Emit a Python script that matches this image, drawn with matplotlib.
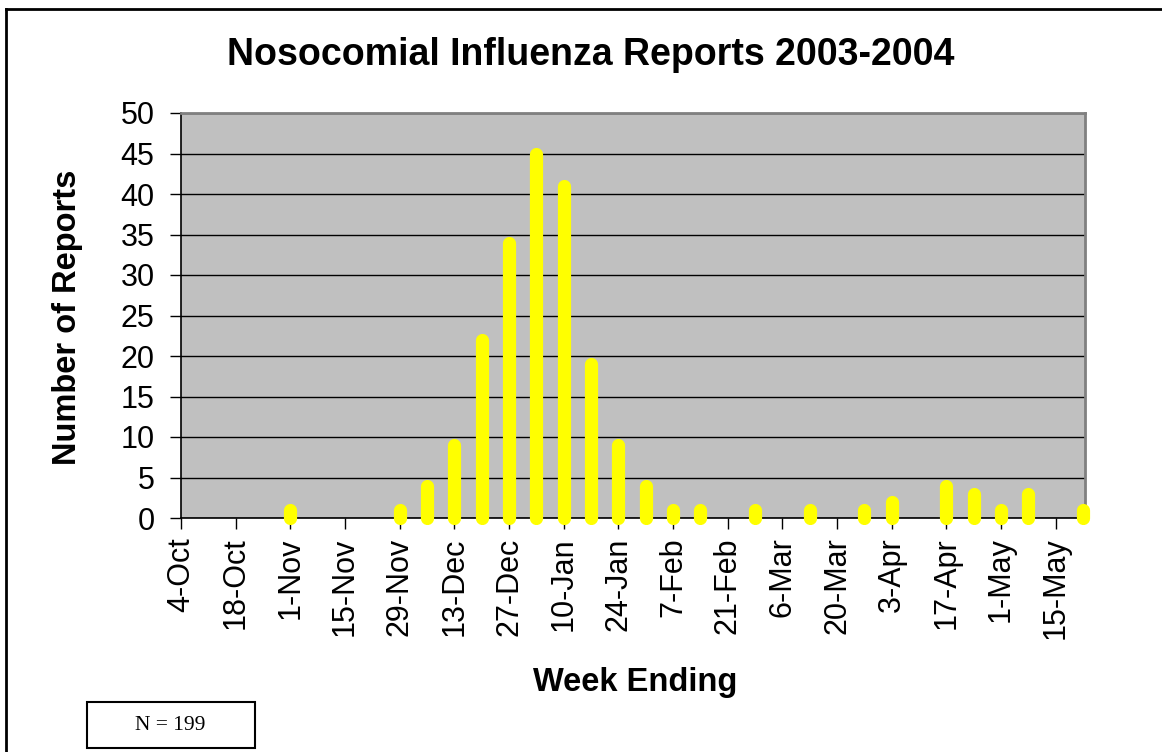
import numpy as np
import matplotlib
matplotlib.use('Agg')
import matplotlib.pyplot as plt
import matplotlib.dates as mdates
from matplotlib.lines import Line2D

plt.rcParams['font.family'] = ['Liberation Sans', 'DejaVu Sans']

# week ending dates with reports (weeks not listed had none)
week_ending = ['2003-11-01', '2003-11-29', '2003-12-06', '2003-12-13', '2003-12-20',
               '2003-12-27', '2004-01-03', '2004-01-10', '2004-01-17', '2004-01-24',
               '2004-01-31', '2004-02-07', '2004-02-14', '2004-02-28', '2004-03-13',
               '2004-03-27', '2004-04-03', '2004-04-17', '2004-04-24', '2004-05-01',
               '2004-05-08', '2004-05-22']
reports = [1, 1, 4, 9, 22, 34, 45, 41, 19, 9, 4, 1, 1, 1, 1, 1, 2, 4, 3, 1, 3, 1]

first_week = '2003-10-04'
last_week = '2004-05-22'
y_ticks = [0, 5, 10, 15, 20, 25, 30, 35, 40, 45, 50]

x = mdates.datestr2num(week_ending)
x0 = mdates.datestr2num(first_week)
x1 = mdates.datestr2num(last_week)

fig = plt.figure(figsize=(11.62, 7.52), dpi=100)
ax = fig.add_axes([181 / 1162, 1 - 518 / 752, (1085 - 181) / 1162, (518 - 113) / 752])
ax.set_facecolor('#C0C0C0')

# bars as thick lines with rounded ends
ax.vlines(x, 0, reports, colors='#FFFF00', linewidth=9.5, capstyle='round',
          zorder=3, clip_on=False)

ax.set_xlim(x0, x1 + 0.5)
ax.set_ylim(0, 50)
ax.set_yticks(y_ticks)
ax.yaxis.grid(True, color='black', linewidth=1)
ax.set_axisbelow(True)

ticks = np.arange(x0, x1, 14)
ax.set_xticks(ticks)
ax.set_xticklabels([f"{mdates.num2date(t).day}-{mdates.num2date(t):%b}" for t in ticks],
                   rotation=90)

ax.tick_params(axis='y', length=8, width=1, pad=11, labelsize=22, direction='out')
ax.tick_params(axis='x', length=8, width=1, pad=6, labelsize=22, direction='out')

for s in ['top', 'right']:
    ax.spines[s].set_color('#808080')
    ax.spines[s].set_linewidth(2)
for s in ['left', 'bottom']:
    ax.spines[s].set_color('black')
    ax.spines[s].set_linewidth(1.2)

fig.text(591 / 1162, 1 - 55 / 752, 'Nosocomial Influenza Reports 2003-2004',
         ha='center', va='center', fontsize=27, fontweight='bold')
fig.text(68 / 1162, 1 - 317 / 752, 'Number of Reports', rotation=90,
         ha='center', va='center', fontsize=23.5, fontweight='bold')
fig.text(635 / 1162, 1 - 683 / 752, 'Week Ending',
         ha='center', va='center', fontsize=23.5, fontweight='bold')

# N box
fig.text(170 / 1162, 1 - 725 / 752, 'N = 199', ha='center', va='center',
         fontsize=15.5, family='Liberation Serif')
fig.patches.append(plt.Rectangle((87 / 1162, 1 - 748 / 752), (255 - 87) / 1162, 46 / 752,
                                 transform=fig.transFigure, fill=False,
                                 edgecolor='black', linewidth=1.5))

# outer frame (top and left edges)
fig.add_artist(Line2D([6 / 1162, 6 / 1162], [0, 1 - 9 / 752], transform=fig.transFigure,
                      color='black', linewidth=2))
fig.add_artist(Line2D([6 / 1162, 1], [1 - 9 / 752, 1 - 9 / 752], transform=fig.transFigure,
                      color='black', linewidth=2))

fig.savefig('out.png', dpi=100)
